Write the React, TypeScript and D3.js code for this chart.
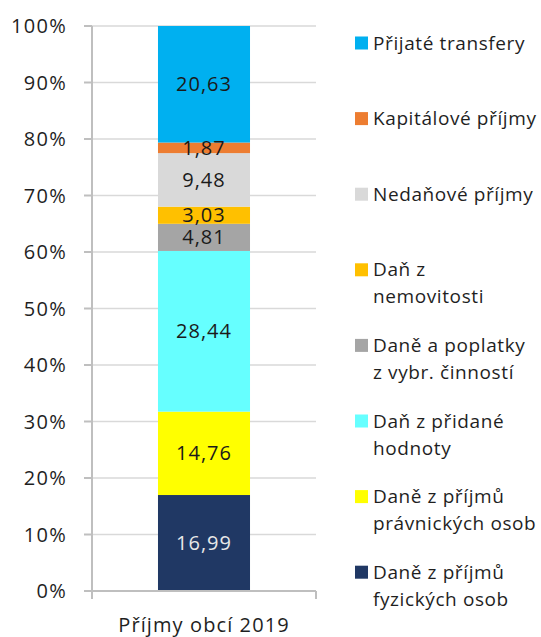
import React, { useEffect, useRef } from 'react'
import * as d3 from 'd3'

const category = 'Příjmy obcí 2019'

// bottom -> top
const seriesKeys = ['fyz', 'prav', 'dph', 'poplatky', 'nemov', 'nedan', 'kapit', 'transf']
const seriesValues = [16.99, 14.76, 28.44, 4.81, 3.03, 9.48, 1.87, 20.63]
const seriesLabels = [
  ['Daně z příjmů', 'fyzických osob'],
  ['Daně z příjmů', 'právnických osob'],
  ['Daň z přidané', 'hodnoty'],
  ['Daně a poplatky', 'z vybr. činností'],
  ['Daň z', 'nemovitosti'],
  ['Nedaňové příjmy'],
  ['Kapitálové příjmy'],
  ['Přijaté transfery'],
]
const seriesColors = ['#203864', '#ffff00', '#66ffff', '#a5a5a5', '#ffc000', '#d9d9d9', '#ed7d31', '#00b0f0']
const labelColors = ['#e8e8e8', '#1a1a1a', '#1a1a1a', '#1a1a1a', '#1a1a1a', '#1a1a1a', '#1a1a1a', '#1a1a1a']
const yTicks = [0, 0.1, 0.2, 0.3, 0.4, 0.5, 0.6, 0.7, 0.8, 0.9, 1]

const FONT = '"Open Sans", sans-serif'
const TEXT = '#1f1f1f'

export default function App() {
  const svgRef = useRef<SVGSVGElement>(null)
  const width = 541
  const height = 637

  useEffect(() => {
    if (!svgRef.current) return
    const svg = d3.select(svgRef.current)
    svg.selectAll('*').remove()

    const left = 92
    const right = 316
    const top = 26
    const bottom = 591

    const total = d3.sum(seriesValues)
    const row: any = { category }
    seriesKeys.forEach((k, i) => (row[k] = seriesValues[i] / total))

    const stack = d3.stack<any>().keys(seriesKeys)
    const series = stack([row])

    const x = d3.scaleBand().domain([category]).range([left, right]).paddingInner(0).paddingOuter(0.717)
    const y = d3.scaleLinear().domain([0, 1]).range([bottom, top])

    // gridlines
    svg.append('g')
      .selectAll('line')
      .data(yTicks.slice(1))
      .enter().append('line')
      .attr('x1', left)
      .attr('x2', right)
      .attr('y1', d => y(d))
      .attr('y2', d => y(d))
      .attr('stroke', '#d9d9d9')
      .attr('stroke-width', 1.5)

    // bars
    svg.append('g')
      .selectAll('rect')
      .data(series)
      .enter().append('rect')
      .attr('x', x(category)!)
      .attr('width', x.bandwidth())
      .attr('y', d => y(d[0][1]))
      .attr('height', d => y(d[0][0]) - y(d[0][1]))
      .attr('fill', (d, i) => seriesColors[i])

    // value labels
    svg.append('g')
      .selectAll('text')
      .data(series)
      .enter().append('text')
      .attr('x', x(category)! + x.bandwidth() / 2)
      .attr('y', d => y((d[0][0] + d[0][1]) / 2))
      .attr('dy', '0.35em')
      .attr('text-anchor', 'middle')
      .style('font-family', FONT)
      .style('font-size', '20px')
      .style('letter-spacing', '1px')
      .style('fill', (d, i) => labelColors[i])
      .text((d, i) => seriesValues[i].toFixed(2).replace('.', ','))

    // y axis
    const axisColor = '#bfbfbf'
    svg.append('line')
      .attr('x1', left).attr('x2', left)
      .attr('y1', top).attr('y2', bottom + 8)
      .attr('stroke', axisColor).attr('stroke-width', 2)
    svg.append('g')
      .selectAll('line')
      .data(yTicks)
      .enter().append('line')
      .attr('x1', left - 8).attr('x2', left)
      .attr('y1', d => y(d)).attr('y2', d => y(d))
      .attr('stroke', axisColor).attr('stroke-width', 2)
    svg.append('g')
      .selectAll('text')
      .data(yTicks)
      .enter().append('text')
      .attr('x', 67)
      .attr('y', d => y(d))
      .attr('dy', '0.35em')
      .attr('text-anchor', 'end')
      .style('font-family', FONT)
      .style('font-size', '20px')
      .style('letter-spacing', '1.3px')
      .style('fill', TEXT)
      .text(d => `${Math.round(d * 100)}%`)

    // x axis
    svg.append('line')
      .attr('x1', left).attr('x2', right)
      .attr('y1', bottom).attr('y2', bottom)
      .attr('stroke', axisColor).attr('stroke-width', 2)
    svg.append('line')
      .attr('x1', right).attr('x2', right)
      .attr('y1', bottom).attr('y2', bottom + 8)
      .attr('stroke', axisColor).attr('stroke-width', 2)
    svg.append('text')
      .attr('x', x(category)! + x.bandwidth() / 2)
      .attr('y', 625)
      .attr('dy', '0.35em')
      .attr('text-anchor', 'middle')
      .style('font-family', FONT)
      .style('font-size', '20px')
      .style('letter-spacing', '1.1px')
      .style('fill', TEXT)
      .text(category)

    // legend (top to bottom = reversed stack order)
    const order = d3.range(seriesKeys.length).reverse()
    const legend = svg.append('g').attr('transform', 'translate(355, 43)')
    const items = legend.selectAll('g')
      .data(order)
      .enter().append('g')
      .attr('transform', (d, i) => `translate(0, ${i * 75.6})`)
    items.append('rect')
      .attr('x', 0).attr('y', -6.5)
      .attr('width', 13).attr('height', 13)
      .attr('fill', d => seriesColors[d])
    items.each(function (d) {
      const t = d3.select(this).append('text')
        .style('font-family', FONT)
        .style('font-size', '19px')
        .style('letter-spacing', '0.6px')
        .style('fill', TEXT)
      seriesLabels[d].forEach((line, j) => {
        t.append('tspan')
          .attr('x', 18)
          .attr('y', j * 27)
          .attr('dy', '0.35em')
          .text(line)
      })
    })
  }, [])

  return (
    <div style={{ position: 'absolute', left: 0, top: 0 }}>
      <svg ref={svgRef} width={width} height={height} style={{ display: 'block', background: '#fff' }} />
    </div>
  )
}
